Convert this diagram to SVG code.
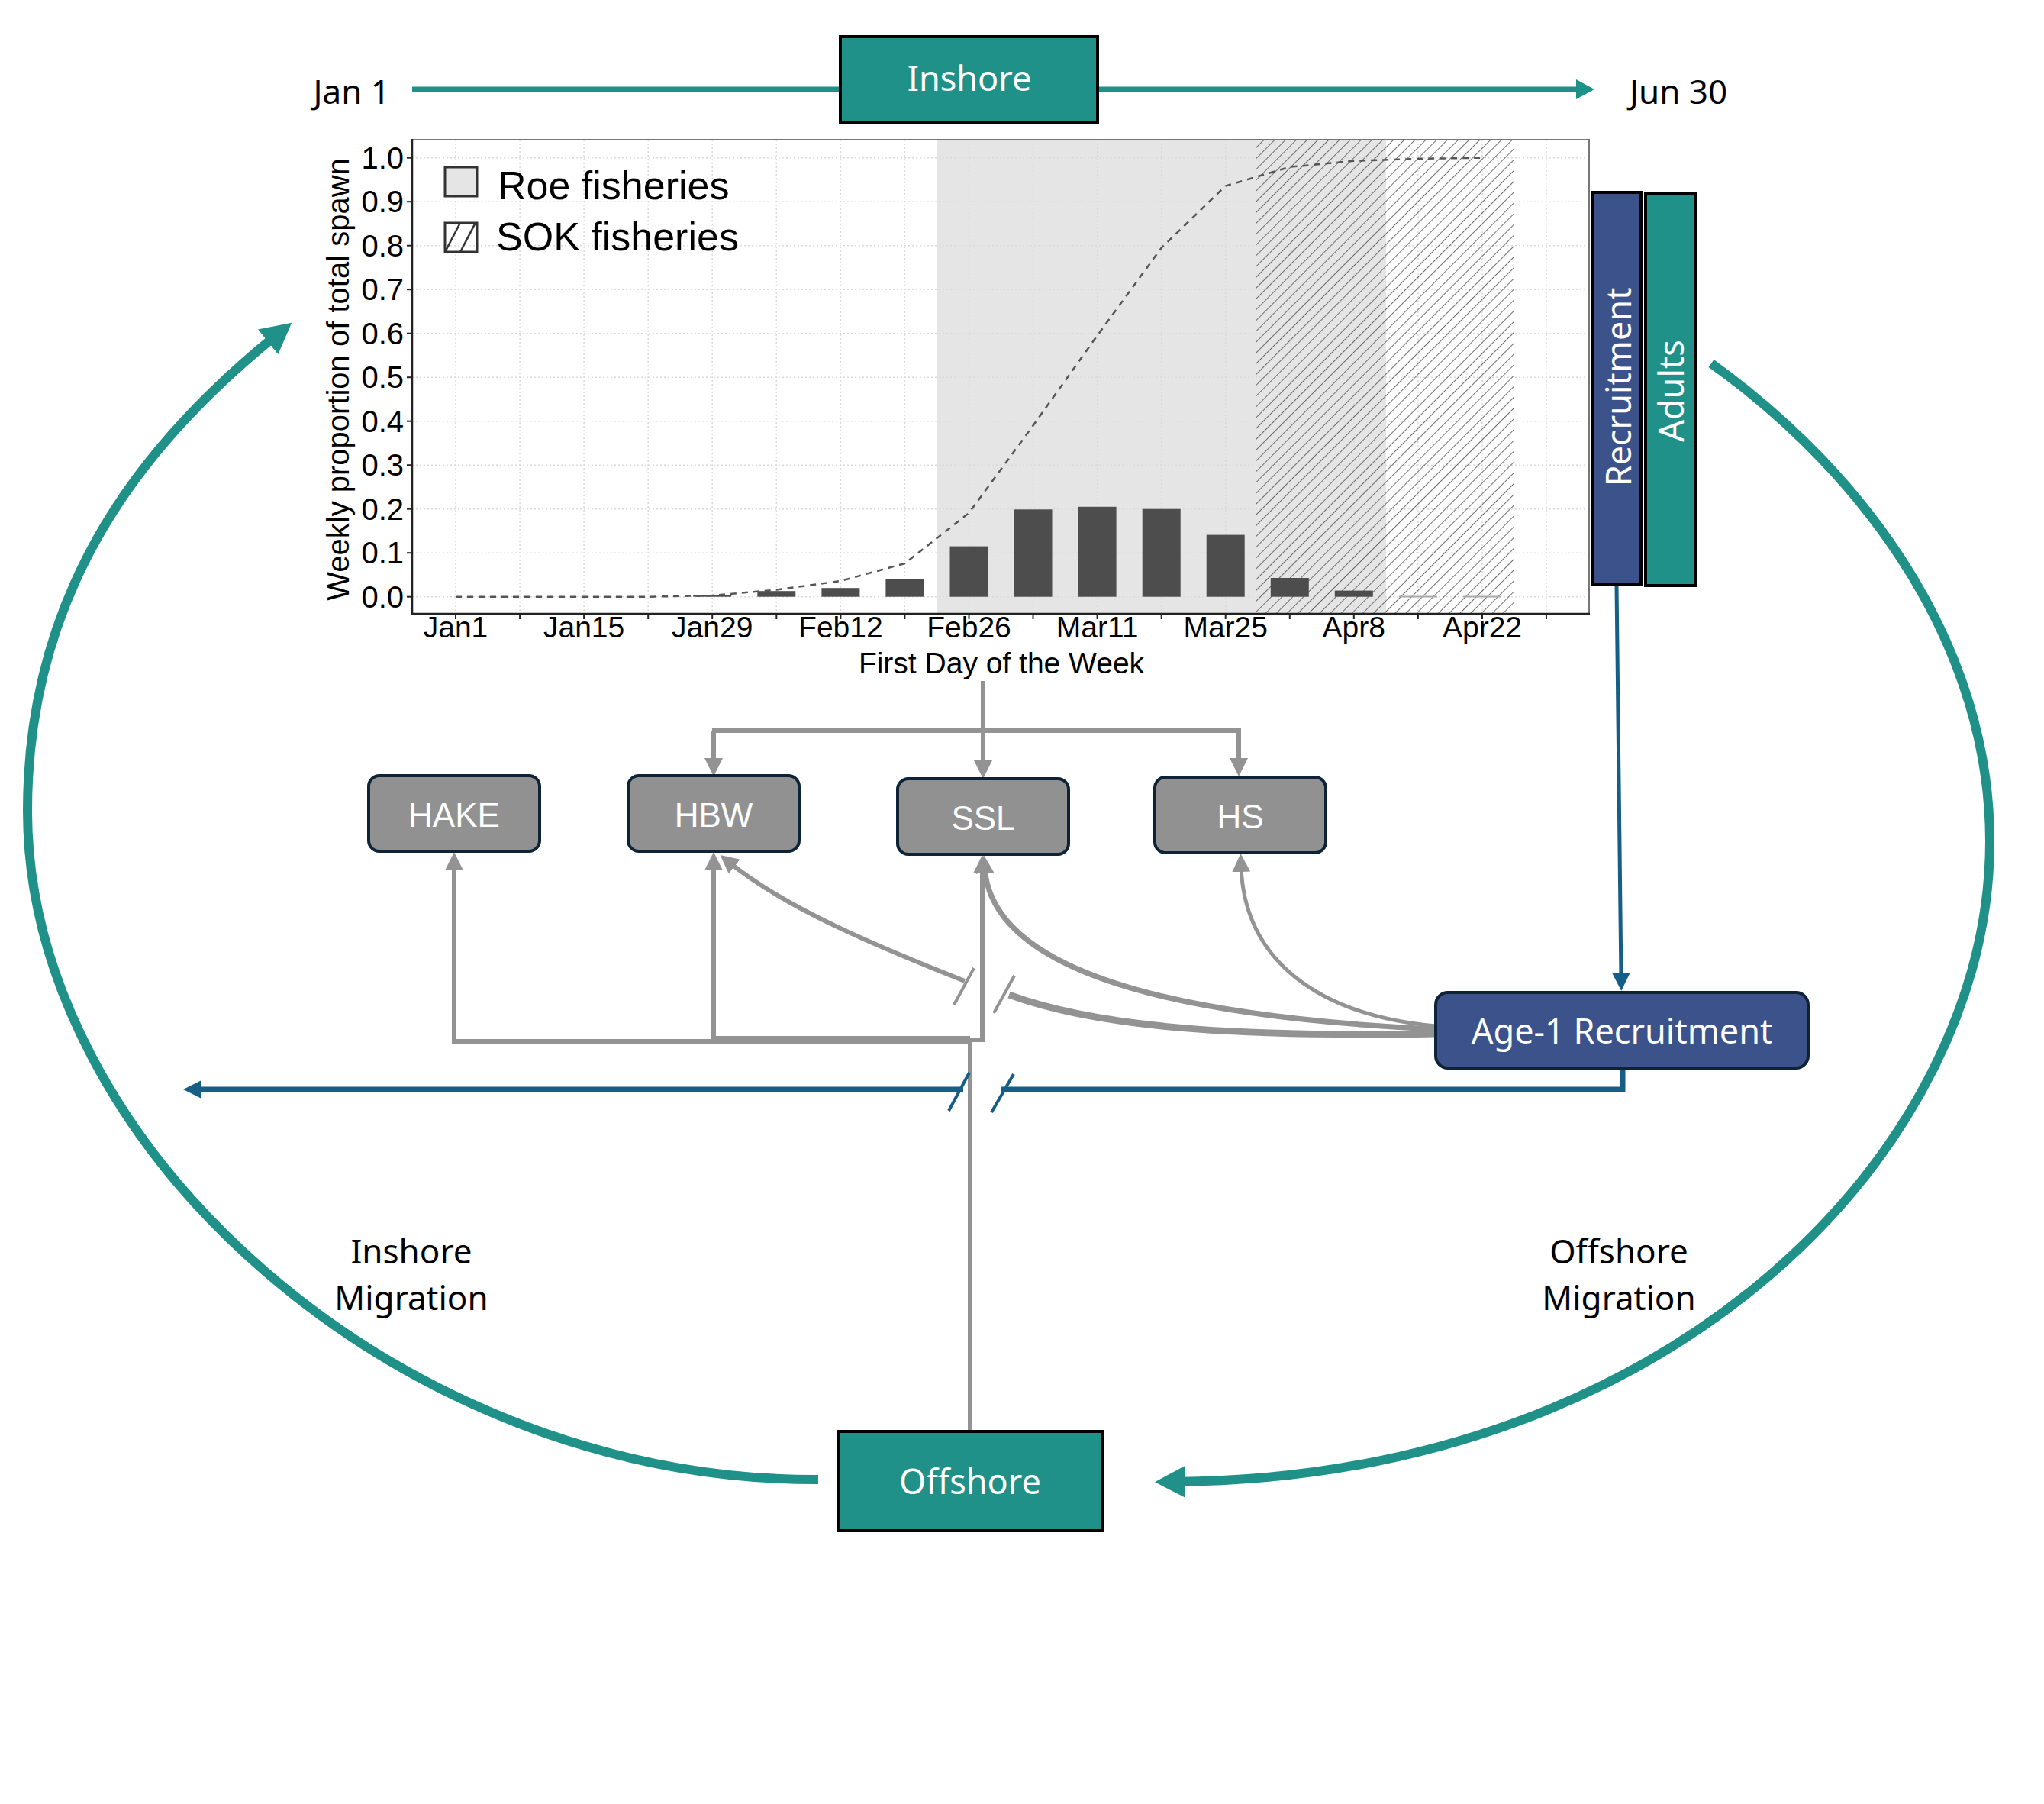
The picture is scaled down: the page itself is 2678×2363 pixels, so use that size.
<svg xmlns="http://www.w3.org/2000/svg" width="2678" height="2363" viewBox="0 0 2678 2363">
<defs>
<style>
.teal{fill:#1F9188;stroke:#000;stroke-width:4}
.bluebox{fill:#3B528A;stroke:#000;stroke-width:4}
.gnode{fill:#919191;stroke:#0E2436;stroke-width:4}
.anode{fill:#3B528A;stroke:#0E2436;stroke-width:4}
.lbl{font-family:"Noto Sans","Liberation Sans",sans-serif;font-size:45px;fill:#fff;text-anchor:middle}
.blk{font-family:"Noto Sans","Liberation Sans",sans-serif;font-size:44px;fill:#000}
.glbl{font-family:"Liberation Sans",Arial,sans-serif;font-size:44px;fill:#fff;text-anchor:middle}
.ct{font-family:"Liberation Sans",Arial,sans-serif;fill:#000}
.ytk{font-size:40px;text-anchor:end}
.xtk{font-size:39px;text-anchor:middle}
.grid{stroke:#DADADA;stroke-width:1.5;stroke-dasharray:2,3;fill:none}
.gline{fill:none;stroke:#939393}
.bline{fill:none;stroke:#155F87}
.tline{fill:none;stroke:#1F9188}
.bar{fill:#4D4D4D}
</style>
<pattern id="hatch" patternUnits="userSpaceOnUse" width="10" height="10" patternTransform="rotate(45)">
<line x1="0" y1="0" x2="0" y2="10" stroke="#4A4A4A" stroke-width="1.6"/>
</pattern>
<clipPath id="plotclip"><rect x="540" y="183" width="1542" height="621"/></clipPath>
<clipPath id="sokclip"><rect x="583" y="292" width="42" height="38"/></clipPath>
<marker id="aTeal" viewBox="0 0 40 42" refX="14" refY="21" markerWidth="40" markerHeight="42" markerUnits="userSpaceOnUse" orient="auto"><path d="M0,0 L40,21 L0,42 z" fill="#1F9188"/></marker>
<marker id="aTealS" viewBox="0 0 24 26" refX="8" refY="13" markerWidth="24" markerHeight="26" markerUnits="userSpaceOnUse" orient="auto"><path d="M0,0 L24,13 L0,26 z" fill="#1F9188"/></marker>
<marker id="aBlue" viewBox="0 0 24 24" refX="8" refY="12" markerWidth="24" markerHeight="24" markerUnits="userSpaceOnUse" orient="auto"><path d="M0,0 L24,12 L0,24 z" fill="#155F87"/></marker>
<marker id="aGray" viewBox="0 0 24 24" refX="8" refY="12" markerWidth="24" markerHeight="24" markerUnits="userSpaceOnUse" orient="auto"><path d="M0,0 L24,12 L0,24 z" fill="#939393"/></marker>
</defs>
<rect x="0" y="0" width="2678" height="2363" fill="#fff"/>

<!-- Chart -->
<g id="chart">
<rect x="540" y="183" width="1542" height="621" fill="#fff"/>
<rect x="1227" y="183" width="589" height="621" fill="#E5E5E5"/>
<g class="grid">
<line x1="540" y1="781.7" x2="2082" y2="781.7"/>
<line x1="540" y1="724.2" x2="2082" y2="724.2"/>
<line x1="540" y1="666.7" x2="2082" y2="666.7"/>
<line x1="540" y1="609.2" x2="2082" y2="609.2"/>
<line x1="540" y1="551.7" x2="2082" y2="551.7"/>
<line x1="540" y1="494.2" x2="2082" y2="494.2"/>
<line x1="540" y1="436.7" x2="2082" y2="436.7"/>
<line x1="540" y1="379.2" x2="2082" y2="379.2"/>
<line x1="540" y1="321.7" x2="2082" y2="321.7"/>
<line x1="540" y1="264.2" x2="2082" y2="264.2"/>
<line x1="540" y1="206.7" x2="2082" y2="206.7"/>
<line x1="597" y1="183" x2="597" y2="804"/>
<line x1="681.1" y1="183" x2="681.1" y2="804"/>
<line x1="765.1" y1="183" x2="765.1" y2="804"/>
<line x1="849.2" y1="183" x2="849.2" y2="804"/>
<line x1="933.2" y1="183" x2="933.2" y2="804"/>
<line x1="1017.3" y1="183" x2="1017.3" y2="804"/>
<line x1="1101.4" y1="183" x2="1101.4" y2="804"/>
<line x1="1185.4" y1="183" x2="1185.4" y2="804"/>
<line x1="1269.5" y1="183" x2="1269.5" y2="804"/>
<line x1="1353.5" y1="183" x2="1353.5" y2="804"/>
<line x1="1437.6" y1="183" x2="1437.6" y2="804"/>
<line x1="1521.7" y1="183" x2="1521.7" y2="804"/>
<line x1="1605.7" y1="183" x2="1605.7" y2="804"/>
<line x1="1689.8" y1="183" x2="1689.8" y2="804"/>
<line x1="1773.8" y1="183" x2="1773.8" y2="804"/>
<line x1="1857.9" y1="183" x2="1857.9" y2="804"/>
<line x1="1942" y1="183" x2="1942" y2="804"/>
<line x1="2026" y1="183" x2="2026" y2="804"/>
</g>
<rect x="1646" y="183" width="337" height="621" fill="url(#hatch)" clip-path="url(#plotclip)"/>
<g>
<rect class="bar" x="908.2" y="779.2" width="50" height="2.5"/>
<rect class="bar" x="992.3" y="774.2" width="50" height="7.5"/>
<rect class="bar" x="1076.4" y="770.2" width="50" height="11.5"/>
<rect class="bar" x="1160.4" y="758.7" width="50" height="23"/>
<rect class="bar" x="1244.5" y="715.6" width="50" height="66.1"/>
<rect class="bar" x="1328.5" y="667.3" width="50" height="114.4"/>
<rect class="bar" x="1412.6" y="663.8" width="50" height="117.9"/>
<rect class="bar" x="1496.7" y="666.7" width="50" height="115"/>
<rect class="bar" x="1580.7" y="700.6" width="50" height="81.1"/>
<rect class="bar" x="1664.8" y="757" width="50" height="24.7"/>
<rect class="bar" x="1748.8" y="773.6" width="50" height="8.1"/>
<rect x="1832.9" y="780.5" width="50" height="2" fill="#AAAAAA"/>
<rect x="1917" y="780.5" width="50" height="2" fill="#AAAAAA"/>
</g>
<polyline fill="none" stroke="#555" stroke-width="2.5" stroke-dasharray="8,7" points="597,781.7 681.1,781.7 765.1,781.7 849.2,781.7 933.2,780 1017.3,772.5 1101.4,761 1185.4,738 1269.5,671.9 1353.5,557.5 1437.6,439.6 1521.7,324.6 1605.7,243.5 1689.8,218.8 1773.8,210.7 1857.9,207.9 1942,206.7"/>
<!-- frame -->
<rect x="540" y="183" width="1542" height="621" fill="none" stroke="#777" stroke-width="2"/>
<line x1="540" y1="182" x2="540" y2="805" stroke="#222" stroke-width="2.5"/>
<line x1="539" y1="804" x2="2083" y2="804" stroke="#222" stroke-width="2.5"/>
<!-- ticks -->
<g stroke="#222" stroke-width="2">
<line x1="533" y1="781.7" x2="540" y2="781.7"/>
<line x1="533" y1="724.2" x2="540" y2="724.2"/>
<line x1="533" y1="666.7" x2="540" y2="666.7"/>
<line x1="533" y1="609.2" x2="540" y2="609.2"/>
<line x1="533" y1="551.7" x2="540" y2="551.7"/>
<line x1="533" y1="494.2" x2="540" y2="494.2"/>
<line x1="533" y1="436.7" x2="540" y2="436.7"/>
<line x1="533" y1="379.2" x2="540" y2="379.2"/>
<line x1="533" y1="321.7" x2="540" y2="321.7"/>
<line x1="533" y1="264.2" x2="540" y2="264.2"/>
<line x1="533" y1="206.7" x2="540" y2="206.7"/>
<line x1="597" y1="804" x2="597" y2="811"/>
<line x1="681.1" y1="804" x2="681.1" y2="811"/>
<line x1="765.1" y1="804" x2="765.1" y2="811"/>
<line x1="849.2" y1="804" x2="849.2" y2="811"/>
<line x1="933.2" y1="804" x2="933.2" y2="811"/>
<line x1="1017.3" y1="804" x2="1017.3" y2="811"/>
<line x1="1101.4" y1="804" x2="1101.4" y2="811"/>
<line x1="1185.4" y1="804" x2="1185.4" y2="811"/>
<line x1="1269.5" y1="804" x2="1269.5" y2="811"/>
<line x1="1353.5" y1="804" x2="1353.5" y2="811"/>
<line x1="1437.6" y1="804" x2="1437.6" y2="811"/>
<line x1="1521.7" y1="804" x2="1521.7" y2="811"/>
<line x1="1605.7" y1="804" x2="1605.7" y2="811"/>
<line x1="1689.8" y1="804" x2="1689.8" y2="811"/>
<line x1="1773.8" y1="804" x2="1773.8" y2="811"/>
<line x1="1857.9" y1="804" x2="1857.9" y2="811"/>
<line x1="1942" y1="804" x2="1942" y2="811"/>
<line x1="2026" y1="804" x2="2026" y2="811"/>
</g>
<g class="ct ytk">
<text x="529" y="796">0.0</text>
<text x="529" y="738">0.1</text>
<text x="529" y="681">0.2</text>
<text x="529" y="623">0.3</text>
<text x="529" y="566">0.4</text>
<text x="529" y="508">0.5</text>
<text x="529" y="451">0.6</text>
<text x="529" y="393">0.7</text>
<text x="529" y="336">0.8</text>
<text x="529" y="278">0.9</text>
<text x="529" y="221">1.0</text>
</g>
<g class="ct xtk">
<text x="597" y="835">Jan1</text>
<text x="765.1" y="835">Jan15</text>
<text x="933.2" y="835">Jan29</text>
<text x="1101.4" y="835">Feb12</text>
<text x="1269.5" y="835">Feb26</text>
<text x="1437.6" y="835">Mar11</text>
<text x="1605.7" y="835">Mar25</text>
<text x="1773.8" y="835">Apr8</text>
<text x="1942" y="835">Apr22</text>
</g>
<text class="ct" x="1312" y="882" font-size="39" text-anchor="middle">First Day of the Week</text>
<text class="ct" font-size="40" text-anchor="middle" transform="translate(457,497) rotate(-90)">Weekly proportion of total spawn</text>
<!-- legend -->
<rect x="583" y="219" width="42" height="38" fill="#E5E5E5" stroke="#333" stroke-width="3"/>
<g clip-path="url(#sokclip)" stroke="#333" stroke-width="2.5">
<line x1="580" y1="336" x2="606" y2="286"/>
<line x1="600" y1="336" x2="626" y2="286"/>
</g>
<rect x="583" y="292" width="42" height="38" fill="none" stroke="#333" stroke-width="3"/>
<text class="ct" x="652" y="261" font-size="52">Roe fisheries</text>
<text class="ct" x="650" y="328" font-size="52">SOK fisheries</text>
</g>

<!-- Connectors -->
<g id="connectors">
<path class="tline" stroke-width="7" d="M540,117 H2073" marker-end="url(#aTealS)"/>
<path class="tline" stroke-width="12" d="M1072,1938 C520,1940 36,1500 36,1062 C36,760 200,570 362,439" marker-end="url(#aTeal)"/>
<path class="tline" stroke-width="12" d="M2242,476 C2450,625 2607,850 2607,1102 C2607,1500 2200,1935 1539,1941" marker-end="url(#aTeal)"/>

<path class="gline" stroke-width="6" d="M1288,892 V957"/>
<path class="gline" stroke-width="6" d="M933,957 H1626"/>
<path class="gline" stroke-width="6" d="M935,957 V1001" marker-end="url(#aGray)"/>
<path class="gline" stroke-width="6" d="M1288,957 V1004" marker-end="url(#aGray)"/>
<path class="gline" stroke-width="6" d="M1623,957 V1001" marker-end="url(#aGray)"/>

<path class="gline" stroke-width="6" d="M1271,1875 V1364 H595 V1132" marker-end="url(#aGray)"/>
<path class="gline" stroke-width="6" d="M1271,1360 H935 V1132" marker-end="url(#aGray)"/>
<path class="gline" stroke-width="6" d="M1268,1362 H1287 V1136" marker-end="url(#aGray)"/>

<path class="gline" stroke-width="5" d="M1881,1344 C1730,1330 1630,1260 1626,1134" marker-end="url(#aGray)"/>
<path class="gline" stroke-width="7" d="M1881,1348 C1600,1335 1300,1290 1290,1136" marker-end="url(#aGray)"/>
<path class="gline" stroke-width="9" d="M1881,1354 C1650,1358 1450,1350 1322,1303"/>
<path class="gline" stroke-width="6" d="M1264,1285 C1150,1240 1030,1190 956,1130" marker-end="url(#aGray)"/>
<path class="gline" stroke-width="4" d="M1276,1268 L1250,1316 M1329,1278 L1302,1327"/>

<path class="bline" stroke-width="5" d="M2118,766 L2124,1282" marker-end="url(#aBlue)"/>
<path class="bline" stroke-width="7" d="M1262,1427 H256" marker-end="url(#aBlue)"/>
<path class="bline" stroke-width="7" d="M1312,1427 H2126 V1399"/>
<path class="bline" stroke-width="4" d="M1270,1405 L1243,1455 M1328,1407 L1299,1457"/>
</g>

<!-- Nodes -->
<g id="inshore">
<rect class="teal" x="1101" y="48" width="337" height="113"/>
<text class="lbl" x="1270" y="119">Inshore</text>
</g>
<g id="jan1"><text class="blk" x="511" y="136" text-anchor="end">Jan 1</text></g>
<g id="jun30"><text class="blk" x="2135" y="136">Jun 30</text></g>
<g id="recruitment">
<rect class="bluebox" x="2087" y="252" width="63" height="513"/>
<text class="lbl" transform="translate(2137,507) rotate(-90)">Recruitment</text>
</g>
<g id="adults">
<rect class="teal" x="2156" y="254" width="65" height="513"/>
<text class="lbl" transform="translate(2206,512) rotate(-90)">Adults</text>
</g>
<g id="hake">
<rect class="gnode" x="483" y="1016" width="224" height="99" rx="14"/>
<text class="glbl" x="595" y="1083">HAKE</text>
</g>
<g id="hbw">
<rect class="gnode" x="823" y="1016" width="224" height="99" rx="14"/>
<text class="glbl" x="935" y="1083">HBW</text>
</g>
<g id="ssl">
<rect class="gnode" x="1176" y="1020" width="224" height="99" rx="14"/>
<text class="glbl" x="1288" y="1087">SSL</text>
</g>
<g id="hs">
<rect class="gnode" x="1513" y="1018" width="224" height="99" rx="14"/>
<text class="glbl" x="1625" y="1085">HS</text>
</g>
<g id="age1">
<rect class="anode" x="1881" y="1300" width="488" height="99" rx="16"/>
<text class="lbl" x="2125" y="1367">Age-1 Recruitment</text>
</g>
<g id="offshore">
<rect class="teal" x="1099" y="1875" width="345" height="130"/>
<text class="lbl" x="1271" y="1957">Offshore</text>
</g>
<g id="inshore-migration">
<text class="blk" x="539" y="1655" text-anchor="middle" font-size="43">Inshore</text>
<text class="blk" x="539" y="1716" text-anchor="middle" font-size="43">Migration</text>
</g>
<g id="offshore-migration">
<text class="blk" x="2121" y="1655" text-anchor="middle" font-size="43">Offshore</text>
<text class="blk" x="2121" y="1716" text-anchor="middle" font-size="43">Migration</text>
</g>
</svg>
